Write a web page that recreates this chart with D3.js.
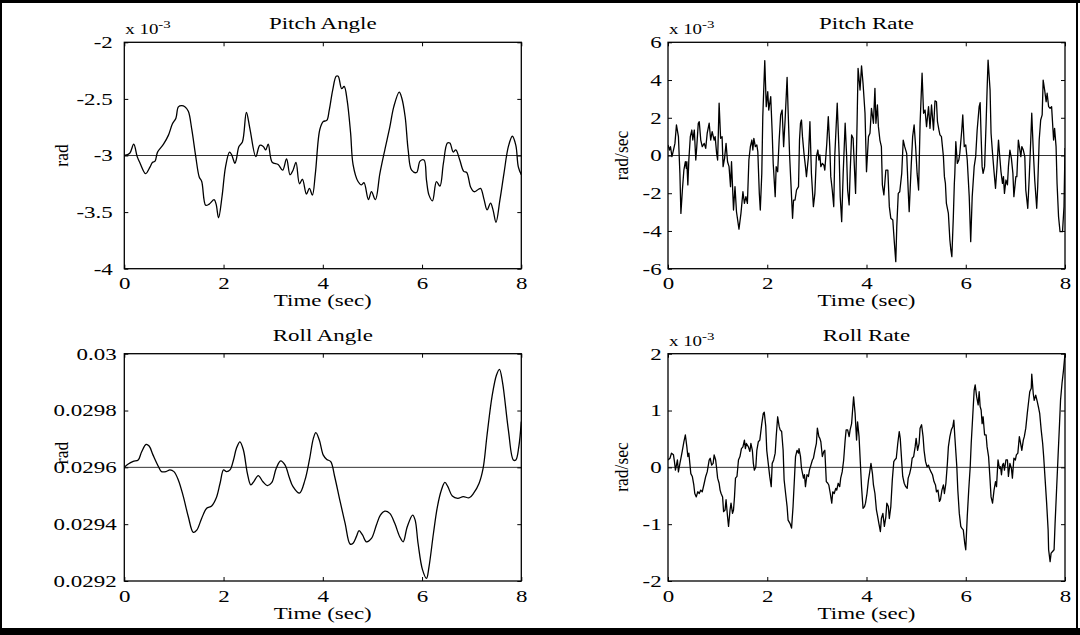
<!DOCTYPE html>
<html>
<head>
<meta charset="utf-8">
<script src="https://cdn.jsdelivr.net/npm/d3@7"></script>
<style>
  html, body { margin: 0; padding: 0; background: #fff; }
  svg { display: block; }
</style>
</head>
<body>
<svg id="fig" width="1080" height="635"></svg>
<script>
// ---- data: [time (sec), value] ----
// Pitch angle, units of 1e-3 rad
const pitchAngle = [
  [0,-3.00],[0.11,-2.98],[0.19,-2.90],[0.26,-3.01],[0.32,-3.07],[0.43,-3.16],[0.52,-3.10],[0.57,-3.06],
  [0.62,-3.05],[0.67,-2.97],[0.79,-2.90],[0.89,-2.82],[0.97,-2.72],[1.04,-2.67],[1.09,-2.57],[1.16,-2.56],
  [1.22,-2.57],[1.29,-2.61],[1.36,-2.77],[1.44,-3.01],[1.51,-3.19],[1.56,-3.23],[1.64,-3.44],[1.71,-3.43],
  [1.81,-3.39],[1.85,-3.43],[1.90,-3.55],[1.97,-3.36],[2.04,-3.10],[2.12,-2.97],[2.16,-2.99],[2.23,-3.07],
  [2.26,-3.03],[2.31,-2.92],[2.38,-2.88],[2.46,-2.62],[2.53,-2.76],[2.65,-3.01],[2.73,-2.91],[2.80,-2.92],
  [2.85,-2.95],[2.90,-2.90],[2.98,-3.06],[3.10,-3.08],[3.19,-3.13],[3.27,-3.03],[3.34,-3.17],[3.40,-3.13],
  [3.46,-3.06],[3.53,-3.25],[3.59,-3.21],[3.67,-3.34],[3.73,-3.29],[3.79,-3.35],[3.85,-3.16],[3.94,-2.77],
  [4.01,-2.70],[4.08,-2.69],[4.13,-2.60],[4.20,-2.42],[4.27,-2.30],[4.31,-2.30],[4.38,-2.41],[4.43,-2.39],
  [4.49,-2.51],[4.56,-2.80],[4.61,-3.08],[4.71,-3.23],[4.78,-3.26],[4.83,-3.24],[4.92,-3.39],[4.98,-3.32],
  [5.06,-3.39],[5.15,-3.16],[5.25,-2.95],[5.35,-2.75],[5.43,-2.57],[5.54,-2.44],[5.59,-2.49],[5.66,-2.66],
  [5.72,-2.95],[5.79,-3.13],[5.89,-3.15],[5.96,-3.05],[6.04,-3.04],[6.09,-3.22],[6.14,-3.35],[6.21,-3.40],
  [6.29,-3.23],[6.36,-3.27],[6.43,-3.07],[6.51,-2.89],[6.56,-2.89],[6.63,-2.97],[6.68,-2.95],[6.76,-3.04],
  [6.84,-3.14],[6.90,-3.15],[6.98,-3.28],[7.05,-3.32],[7.13,-3.30],[7.18,-3.29],[7.25,-3.39],[7.31,-3.48],
  [7.38,-3.42],[7.43,-3.48],[7.49,-3.59],[7.57,-3.39],[7.65,-3.16],[7.74,-2.92],[7.82,-2.83],[7.89,-2.91],
  [7.94,-3.10],[8.00,-3.17]
];

// Pitch rate, units of 1e-3 rad/sec
const pitchRate = [
  [0.00,0.56],[0.03,0.29],[0.05,0.47],[0.08,-0.06],[0.11,0.29],[0.14,0.64],[0.17,1.62],[0.21,1.00],
  [0.24,-0.95],[0.26,-3.07],[0.29,-1.83],[0.32,-0.77],[0.35,-0.33],[0.37,-0.68],[0.38,-0.33],[0.40,-1.56],
  [0.42,-0.24],[0.45,1.00],[0.48,1.35],[0.50,0.82],[0.53,1.35],[0.56,-0.24],[0.58,0.47],[0.61,1.71],
  [0.63,1.79],[0.66,0.82],[0.69,0.47],[0.73,0.64],[0.76,0.38],[0.79,1.18],[0.83,1.71],[0.86,0.82],
  [0.89,1.26],[0.93,0.82],[0.95,1.00],[0.98,0.11],[1.00,-0.24],[1.03,2.77],[1.06,0.91],[1.09,1.00],
  [1.11,-0.59],[1.14,-0.15],[1.17,0.64],[1.20,-0.33],[1.23,-0.59],[1.26,-1.65],[1.28,-0.33],[1.32,-2.89],
  [1.35,-1.65],[1.38,-2.98],[1.43,-3.90],[1.47,-3.07],[1.51,-1.92],[1.54,-2.54],[1.57,-2.18],[1.60,-2.54],
  [1.63,-0.24],[1.66,0.47],[1.69,0.82],[1.71,0.29],[1.73,0.91],[1.76,0.47],[1.79,0.56],[1.81,0.20],
  [1.84,-2.01],[1.86,-2.89],[1.89,-0.95],[1.91,2.06],[1.95,5.03],[1.98,2.59],[2.01,3.38],[2.03,2.41],
  [2.07,3.12],[2.10,1.18],[2.12,-0.42],[2.16,-2.18],[2.18,-0.59],[2.21,-0.86],[2.24,0.82],[2.27,2.15],
  [2.30,2.41],[2.33,0.47],[2.36,1.88],[2.40,4.14],[2.42,2.41],[2.45,0.03],[2.48,-1.65],[2.51,-3.33],
  [2.53,-2.36],[2.56,-2.36],[2.59,-1.83],[2.63,-1.65],[2.65,0.82],[2.67,1.71],[2.69,1.88],[2.71,1.00],
  [2.74,0.11],[2.77,-0.59],[2.79,-1.12],[2.83,-0.06],[2.86,1.79],[2.89,-0.95],[2.93,-2.71],[2.96,-2.01],
  [2.99,-0.06],[3.02,0.29],[3.04,-0.24],[3.06,0.03],[3.08,-0.59],[3.11,-0.42],[3.14,-0.50],[3.16,-0.77],
  [3.20,0.64],[3.23,2.06],[3.26,0.47],[3.28,-1.12],[3.31,-1.83],[3.34,-2.71],[3.36,-0.06],[3.41,2.77],
  [3.45,-0.06],[3.47,-2.18],[3.50,-3.51],[3.53,-0.95],[3.57,1.71],[3.60,-0.06],[3.62,-1.83],[3.65,-2.62],
  [3.67,-0.95],[3.70,1.09],[3.73,0.91],[3.78,-2.01],[3.81,1.71],[3.83,4.62],[3.87,3.47],[3.90,4.75],
  [3.93,3.83],[3.97,2.24],[4.00,-0.86],[4.04,1.00],[4.07,1.18],[4.10,2.50],[4.14,1.71],[4.17,3.56],
  [4.19,1.71],[4.22,2.68],[4.24,1.53],[4.27,0.82],[4.30,0.47],[4.32,-1.56],[4.35,-2.09],[4.39,-0.77],
  [4.43,-0.77],[4.46,-2.71],[4.49,-3.33],[4.53,-3.42],[4.56,-4.57],[4.59,-5.63],[4.61,-3.77],[4.64,-2.01],
  [4.67,-1.92],[4.71,-0.95],[4.74,0.82],[4.77,0.47],[4.81,0.11],[4.84,-1.83],[4.86,-2.98],[4.90,-0.59],
  [4.93,1.00],[4.96,1.62],[4.99,0.47],[5.02,-0.95],[5.05,-1.83],[5.08,1.71],[5.12,4.36],[5.15,2.24],
  [5.18,2.41],[5.21,1.53],[5.25,2.59],[5.28,1.44],[5.31,2.68],[5.35,1.35],[5.38,2.90],[5.41,2.85],
  [5.43,1.79],[5.46,1.35],[5.48,1.09],[5.51,1.00],[5.55,-0.06],[5.57,-1.12],[5.59,-1.48],[5.61,-2.54],
  [5.65,-3.07],[5.68,-4.48],[5.70,-5.01],[5.72,-5.36],[5.75,-3.24],[5.77,-1.48],[5.78,-0.95],[5.80,0.73],
  [5.83,-0.42],[5.86,-0.24],[5.88,0.11],[5.92,1.35],[5.94,2.15],[5.97,0.47],[6.00,0.56],[6.03,-0.24],
  [6.07,-2.18],[6.10,-4.57],[6.13,-2.18],[6.17,-0.59],[6.20,-0.06],[6.23,1.35],[6.27,2.59],[6.29,2.80],
  [6.31,1.00],[6.33,-0.59],[6.35,-0.95],[6.38,-0.59],[6.41,1.71],[6.43,3.47],[6.45,5.06],[6.49,3.47],
  [6.51,1.18],[6.54,0.11],[6.57,-0.86],[6.60,-1.74],[6.63,-0.59],[6.66,0.82],[6.68,0.11],[6.71,-0.86],
  [6.74,-1.48],[6.76,-1.12],[6.78,-2.01],[6.81,-1.30],[6.84,-1.56],[6.86,-0.59],[6.89,0.29],[6.92,-0.15],
  [6.95,-0.95],[6.97,-2.18],[7.01,-1.12],[7.03,-1.12],[7.06,0.82],[7.08,0.47],[7.11,-0.06],[7.13,0.47],
  [7.16,0.29],[7.19,-0.06],[7.21,-1.83],[7.25,-2.80],[7.28,-1.12],[7.31,0.82],[7.33,2.24],[7.36,0.29],
  [7.39,-1.30],[7.43,-2.80],[7.45,-1.65],[7.48,0.82],[7.51,1.88],[7.54,2.15],[7.56,4.00],[7.59,3.47],
  [7.62,2.85],[7.64,3.30],[7.67,2.59],[7.70,2.50],[7.73,2.59],[7.77,0.82],[7.79,1.44],[7.82,0.47],
  [7.84,-1.48],[7.87,-3.24],[7.90,-4.04],[7.95,-4.04],[7.98,-2.71],[8.00,0.40]
];

// Roll angle, rad
const rollAngle = [
  [0,0.029600],[0.08,0.029612],[0.18,0.029621],[0.28,0.029626],[0.35,0.029655],[0.44,0.029681],[0.50,0.029675],
  [0.58,0.029643],[0.69,0.029602],[0.75,0.029585],[0.84,0.029585],[0.92,0.029591],[1.00,0.029585],[1.09,0.029555],
  [1.19,0.029497],[1.29,0.029426],[1.39,0.029371],[1.46,0.029379],[1.56,0.029421],[1.66,0.029456],[1.76,0.029464],
  [1.85,0.029491],[1.93,0.029544],[2.00,0.029591],[2.06,0.029585],[2.13,0.029591],[2.20,0.029626],[2.26,0.029667],
  [2.33,0.029690],[2.40,0.029661],[2.48,0.029579],[2.55,0.029538],[2.61,0.029550],[2.70,0.029571],[2.79,0.029550],
  [2.88,0.029536],[2.97,0.029546],[3.06,0.029596],[3.15,0.029623],[3.24,0.029608],[3.32,0.029567],[3.40,0.029532],
  [3.53,0.029509],[3.64,0.029555],[3.73,0.029626],[3.81,0.029702],[3.86,0.029722],[3.93,0.029696],[4.01,0.029643],
  [4.08,0.029628],[4.16,0.029620],[4.24,0.029567],[4.35,0.029479],[4.45,0.029403],[4.55,0.029330],[4.61,0.029333],
  [4.68,0.029358],[4.73,0.029377],[4.80,0.029362],[4.88,0.029338],[4.98,0.029350],[5.08,0.029397],[5.16,0.029432],
  [5.25,0.029446],[5.35,0.029438],[5.45,0.029403],[5.55,0.029356],[5.62,0.029338],[5.70,0.029390],[5.81,0.029432],
  [5.86,0.029415],[5.92,0.029332],[6.01,0.029239],[6.09,0.029209],[6.14,0.029250],[6.23,0.029368],[6.31,0.029462],
  [6.39,0.029520],[6.46,0.029547],[6.52,0.029532],[6.61,0.029499],[6.72,0.029491],[6.83,0.029497],[6.95,0.029493],
  [7.04,0.029509],[7.15,0.029544],[7.23,0.029596],[7.31,0.029714],[7.41,0.029849],[7.50,0.029925],[7.56,0.029945],
  [7.62,0.029901],[7.74,0.029731],[7.84,0.029626],[7.89,0.029626],[7.95,0.029673],[8.00,0.029761]
];

// Roll rate, units of 1e-3 rad/sec
const rollRate = [
  [0.00,0.13],[0.04,0.16],[0.07,0.25],[0.11,0.22],[0.13,0.10],[0.15,-0.05],[0.17,0.04],[0.19,0.13],
  [0.21,-0.08],[0.24,0.07],[0.26,0.16],[0.29,0.30],[0.32,0.45],[0.35,0.57],[0.38,0.36],[0.40,0.19],
  [0.42,0.25],[0.44,0.07],[0.46,-0.11],[0.49,-0.16],[0.52,-0.31],[0.54,-0.46],[0.57,-0.52],[0.60,-0.43],
  [0.63,-0.46],[0.66,-0.40],[0.69,-0.43],[0.73,-0.28],[0.76,-0.16],[0.79,-0.08],[0.83,0.13],[0.85,0.16],
  [0.88,0.04],[0.91,0.07],[0.93,0.22],[0.96,0.13],[0.98,-0.02],[1.00,-0.19],[1.03,-0.28],[1.05,-0.40],
  [1.07,-0.46],[1.10,-0.52],[1.12,-0.78],[1.15,-0.75],[1.17,-0.57],[1.20,-0.87],[1.22,-1.04],[1.25,-0.75],
  [1.27,-0.63],[1.30,-0.81],[1.32,-0.75],[1.34,-0.52],[1.36,-0.19],[1.39,-0.16],[1.42,0.13],[1.45,0.19],
  [1.48,0.33],[1.51,0.36],[1.54,0.48],[1.56,0.33],[1.58,0.42],[1.62,0.36],[1.65,0.28],[1.67,0.42],
  [1.70,0.30],[1.72,0.07],[1.74,-0.05],[1.77,0.01],[1.79,0.30],[1.82,0.45],[1.85,0.48],[1.89,0.77],
  [1.92,0.95],[1.94,0.97],[1.97,0.72],[1.99,0.30],[2.02,0.07],[2.05,-0.16],[2.08,-0.34],[2.10,0.07],
  [2.13,0.13],[2.16,0.25],[2.18,0.54],[2.21,0.89],[2.24,0.72],[2.26,0.66],[2.29,0.63],[2.32,0.30],
  [2.34,-0.22],[2.37,-0.46],[2.40,-0.69],[2.42,-0.93],[2.46,-0.99],[2.49,-1.07],[2.52,-0.69],[2.55,-0.16],
  [2.57,0.19],[2.60,0.30],[2.63,0.25],[2.64,0.33],[2.67,0.19],[2.69,-0.02],[2.73,-0.19],[2.75,-0.13],
  [2.77,-0.34],[2.80,-0.13],[2.83,-0.16],[2.85,-0.05],[2.88,0.04],[2.91,0.13],[2.93,0.16],[2.96,0.30],
  [2.99,0.42],[3.01,0.69],[3.04,0.54],[3.06,0.51],[3.08,0.45],[3.11,0.19],[3.14,0.28],[3.16,0.30],
  [3.19,-0.25],[3.22,-0.28],[3.24,-0.31],[3.27,-0.46],[3.30,-0.63],[3.32,-0.43],[3.35,-0.46],[3.38,-0.37],
  [3.40,-0.40],[3.43,-0.28],[3.46,-0.34],[3.48,-0.19],[3.51,-0.08],[3.54,0.13],[3.57,0.48],[3.59,0.66],
  [3.62,0.66],[3.65,0.54],[3.67,0.66],[3.70,0.77],[3.72,1.01],[3.74,1.24],[3.77,0.95],[3.80,0.48],
  [3.82,0.80],[3.85,0.54],[3.88,0.01],[3.90,-0.34],[3.93,-0.72],[3.96,-0.69],[3.98,-0.63],[4.01,-0.46],
  [4.04,-0.22],[4.06,-0.11],[4.09,0.07],[4.12,-0.11],[4.14,-0.31],[4.17,-0.46],[4.20,-0.75],[4.22,-0.84],
  [4.25,-0.99],[4.28,-1.13],[4.30,-0.90],[4.33,-0.81],[4.36,-1.04],[4.39,-0.87],[4.41,-0.63],[4.44,-0.69],
  [4.46,-0.90],[4.49,-0.69],[4.52,-0.22],[4.55,0.10],[4.57,0.13],[4.60,0.16],[4.63,0.42],[4.66,0.63],
  [4.68,0.51],[4.71,0.10],[4.73,-0.16],[4.76,-0.28],[4.79,-0.34],[4.82,-0.37],[4.84,-0.19],[4.87,-0.11],
  [4.90,0.01],[4.92,0.16],[4.95,0.19],[4.98,0.36],[5.00,0.51],[5.03,0.30],[5.06,0.42],[5.08,0.69],
  [5.11,0.75],[5.14,0.54],[5.16,0.30],[5.19,0.10],[5.22,0.01],[5.25,0.04],[5.27,-0.02],[5.30,-0.08],
  [5.33,-0.13],[5.36,-0.25],[5.39,-0.31],[5.41,-0.43],[5.44,-0.40],[5.47,-0.60],[5.49,-0.57],[5.52,-0.40],
  [5.55,-0.31],[5.57,-0.46],[5.60,-0.28],[5.63,0.07],[5.65,0.36],[5.68,0.54],[5.71,0.66],[5.74,0.72],
  [5.76,0.83],[5.78,0.54],[5.82,0.01],[5.84,-0.40],[5.87,-0.81],[5.90,-1.04],[5.92,-1.07],[5.95,-1.10],
  [5.98,-1.34],[6.00,-1.45],[6.03,-0.87],[6.06,-0.40],[6.09,0.01],[6.11,0.42],[6.14,0.89],[6.17,1.36],
  [6.19,1.45],[6.22,1.24],[6.25,1.10],[6.27,1.33],[6.29,1.07],[6.31,1.01],[6.33,0.77],[6.35,0.89],
  [6.38,0.57],[6.41,0.57],[6.43,0.36],[6.46,0.19],[6.49,-0.22],[6.51,-0.52],[6.54,-0.63],[6.57,-0.40],
  [6.60,-0.25],[6.62,-0.34],[6.65,0.13],[6.68,-0.02],[6.70,0.01],[6.72,-0.13],[6.74,0.04],[6.76,0.07],
  [6.78,-0.05],[6.81,0.13],[6.84,0.13],[6.86,-0.16],[6.89,0.07],[6.92,-0.02],[6.94,-0.19],[6.97,0.16],
  [7.00,0.13],[7.02,0.22],[7.05,0.25],[7.08,0.54],[7.10,0.45],[7.13,0.30],[7.16,0.48],[7.18,0.54],
  [7.21,0.69],[7.24,0.95],[7.27,1.18],[7.29,1.33],[7.32,1.39],[7.33,1.64],[7.36,1.30],[7.38,1.18],
  [7.41,1.27],[7.44,1.16],[7.47,1.04],[7.49,0.95],[7.52,0.66],[7.55,0.42],[7.57,0.19],[7.60,-0.22],
  [7.63,-0.63],[7.66,-1.10],[7.67,-1.45],[7.70,-1.66],[7.72,-1.51],[7.75,-1.48],[7.78,-1.45],[7.80,-0.99],
  [7.83,-0.40],[7.86,0.19],[7.89,0.77],[7.91,1.18],[7.94,1.48],[7.97,1.71],[8.00,2.00]
];

// ---- axis settings ----
const timeTicks = [0, 2, 4, 6, 8];
const pitchAngleTicks = [-4, -3.5, -3, -2.5, -2];
const pitchRateTicks = [-6, -4, -2, 0, 2, 4, 6];
const rollAngleTicks = [0.0292, 0.0294, 0.0296, 0.0298, 0.03];
const rollRateTicks = [-2, -1, 0, 1, 2];

const titles = ["Pitch Angle", "Pitch Rate", "Roll Angle", "Roll Rate"];
const yLabels = ["rad", "rad/sec", "rad", "rad/sec"];
const xLabel = "Time (sec)";

// ---- drawing ----
const svg = d3.select("#fig");
const FONT = "'Liberation Serif', 'Times New Roman', serif";
const SX = 1.35;            // horizontal glyph stretch of the printed figure
const TICK = 4;
const hyphen = s => String(s).replace(/\u2212/g, "-");

// outer frame: heavy top/bottom bands, thin sides
svg.append("rect").attr("x", 0).attr("y", 0).attr("width", 1080).attr("height", 3).attr("fill", "#000");
svg.append("rect").attr("x", 0).attr("y", 628).attr("width", 1080).attr("height", 7).attr("fill", "#000");
svg.append("rect").attr("x", 0).attr("y", 0).attr("width", 2).attr("height", 635).attr("fill", "#000");
svg.append("rect").attr("x", 1076).attr("y", 0).attr("width", 2).attr("height", 635).attr("fill", "#000");

const panels = [
  { box: [124.3, 521.3, 42.3, 268.7], data: pitchAngle, ticks: pitchAngleTicks, ref: -3,
    fmt: d => hyphen(d3.format("")(d)), exp: true, curve: d3.curveCatmullRom, pad: 11.5,
    ylab: [68, 155.5] },
  { box: [668, 1065, 42.3, 268.7], data: pitchRate, ticks: pitchRateTicks, ref: 0,
    fmt: d => hyphen(d3.format("")(d)), exp: true, curve: d3.curveLinear, pad: 6.3,
    ylab: [628, 155.5] },
  { box: [124.3, 521.3, 353.7, 581], data: rollAngle, ticks: rollAngleTicks, ref: 0.0296,
    fmt: d => hyphen(d3.format(".4~f")(d)), exp: false, curve: d3.curveCatmullRom, pad: 7.6,
    ylab: [68, 453] },
  { box: [668, 1065, 353.7, 581], data: rollRate, ticks: rollRateTicks, ref: 0,
    fmt: d => hyphen(d3.format("")(d)), exp: true, curve: d3.curveLinear, pad: 6.3,
    ylab: [628, 467] }
];

function stretchText(sel) {
  sel.each(function () {
    const t = d3.select(this);
    const x = +t.attr("x") || 0;
    t.attr("x", x / SX).attr("transform", `scale(${SX},1)`);
  });
}

panels.forEach((p, i) => {
  const [x0, x1, y0, y1] = p.box;
  const x = d3.scaleLinear().domain([0, 8]).range([x0, x1]);
  const y = d3.scaleLinear().domain(d3.extent(p.ticks)).range([y1, y0]);
  const g = svg.append("g");

  // reference line
  g.append("line")
    .attr("x1", x0).attr("x2", x1)
    .attr("y1", y(p.ref)).attr("y2", y(p.ref))
    .attr("stroke", "#333").attr("stroke-width", 1);

  // signal
  const clipId = "clip" + i;
  svg.append("clipPath").attr("id", clipId)
    .append("rect").attr("x", x0).attr("y", y0 - 1)
    .attr("width", x1 - x0).attr("height", y1 - y0 + 2);
  g.append("path")
    .datum(p.data)
    .attr("clip-path", `url(#${clipId})`)
    .attr("fill", "none").attr("stroke", "#000").attr("stroke-width", 1.3)
    .attr("stroke-linejoin", "round")
    .attr("d", d3.line().x(d => x(d[0])).y(d => y(d[1])).curve(p.curve));

  // axes (ticks pointing inward on all four sides)
  const left = g.append("g").attr("transform", `translate(${x0},0)`)
    .call(d3.axisLeft(y).tickValues(p.ticks).tickFormat(p.fmt).tickSize(-TICK).tickPadding(p.pad));
  const bottom = g.append("g").attr("transform", `translate(0,${y1})`)
    .call(d3.axisBottom(x).tickValues(timeTicks).tickFormat(d3.format("d")).tickSize(-TICK).tickPadding(8.5));
  g.append("g").attr("transform", `translate(${x1},0)`)
    .call(d3.axisRight(y).tickValues(p.ticks).tickFormat("").tickSize(-TICK));
  g.append("g").attr("transform", `translate(0,${y0})`)
    .call(d3.axisTop(x).tickValues(timeTicks).tickFormat("").tickSize(-TICK));

  g.selectAll(".domain").remove();
  g.selectAll(".tick line").attr("stroke", "#000").attr("stroke-width", 1);
  [left, bottom].forEach(a => a.selectAll("text")
    .attr("font-family", FONT).attr("font-size", 17).attr("fill", "#000"));
  left.selectAll("text").call(stretchText);
  bottom.selectAll("text").call(stretchText);

  // frame
  g.append("rect")
    .attr("x", x0).attr("y", y0).attr("width", x1 - x0).attr("height", y1 - y0)
    .attr("fill", "none").attr("stroke", "#000").attr("stroke-width", 1.3);

  const cx = (x0 + x1) / 2;
  // title
  g.append("text")
    .attr("transform", `translate(${cx},${y0 - 13}) scale(${SX},1)`)
    .attr("text-anchor", "middle")
    .attr("font-family", FONT).attr("font-size", 17)
    .text(titles[i]);

  // x label
  g.append("text")
    .attr("transform", `translate(${cx},${y1 + 37.5}) scale(${SX},1)`)
    .attr("text-anchor", "middle")
    .attr("font-family", FONT).attr("font-size", 17)
    .text(xLabel);

  // y label
  g.append("text")
    .attr("transform", `translate(${p.ylab[0]},${p.ylab[1]}) scale(1.1,1) rotate(-90)`)
    .attr("text-anchor", "middle")
    .attr("font-family", FONT).attr("font-size", 17.5)
    .text(yLabels[i]);

  // exponent note
  if (p.exp) {
    const e = g.append("text")
      .attr("transform", `translate(${x0 + 1},${y0 - 8}) scale(${SX},1)`)
      .attr("font-family", FONT).attr("font-size", 14);
    e.append("tspan").text("x 10");
    e.append("tspan").attr("font-size", 11).attr("dy", -6).text("-3");
  }
});
</script>
</body>
</html>
